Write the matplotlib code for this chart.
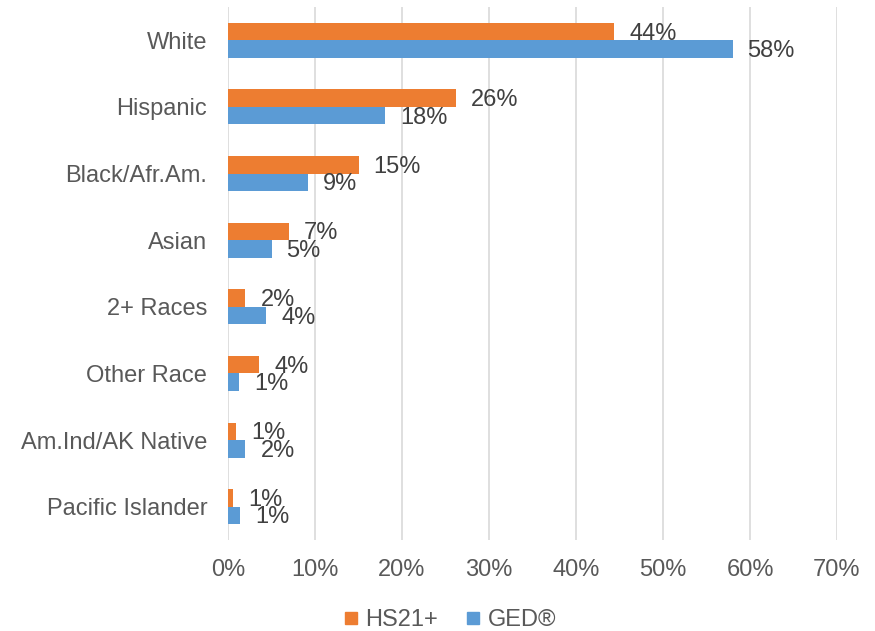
import matplotlib
matplotlib.use("Agg")
import matplotlib.pyplot as plt
import numpy as np
from matplotlib.lines import Line2D

plt.rcParams["font.family"] = ["Liberation Sans", "DejaVu Sans"]

categories = ["White", "Hispanic", "Black/Afr.Am.", "Asian", "2+ Races",
              "Other Race", "Am.Ind/AK Native", "Pacific Islander"]
hs21 = [44.4, 26.2, 15.0, 7.0, 2.0, 3.6, 0.9, 0.6]
ged = [58.0, 18.1, 9.2, 5.0, 4.4, 1.3, 2.0, 1.4]
xticks = [0, 10, 20, 30, 40, 50, 60, 70]

orange = "#ED7D31"
blue = "#5B9BD5"
label_color = "#595959"
value_color = "#404040"
fs = 17

fig = plt.figure(figsize=(8.75, 6.31), dpi=100)
ax = fig.add_axes([228 / 875, 1 - 540 / 631, 609 / 875, 533 / 631])

pos = np.arange(len(categories))
h = 0.262
b1 = ax.barh(pos - h / 2, hs21, height=h, color=orange, zorder=3)
b2 = ax.barh(pos + h / 2, ged, height=h, color=blue, zorder=3)

for bars, vals in ((b1, hs21), (b2, ged)):
    for bar, v in zip(bars, vals):
        ax.annotate(f"{v:.0f}%", (v, bar.get_y() + bar.get_height() / 2),
                    xytext=(15, -2), textcoords="offset pixels",
                    ha="left", va="center", fontsize=fs, color=value_color,
                    zorder=4)

ax.set_xlim(0, 70)
ax.set_ylim(len(categories) - 0.5, -0.5)
ax.set_xticks(xticks)
ax.set_xticklabels([f"{t}%" for t in xticks])
ax.set_yticks(pos)
ax.set_yticklabels(categories)
ax.tick_params(axis="both", length=0, labelsize=fs, labelcolor=label_color)
ax.tick_params(axis="x", pad=14)
ax.tick_params(axis="y", pad=15)
ax.grid(axis="x", color="#D9D9D9", linewidth=1.2, zorder=0)
for s in ax.spines.values():
    s.set_visible(False)

handles = [Line2D([], [], marker="s", linestyle="none", markersize=9,
                  color=orange),
           Line2D([], [], marker="s", linestyle="none", markersize=9,
                  color=blue)]
fig.legend(handles, ["HS21+", "GED®"], loc="center",
           bbox_to_anchor=(450 / 875, 1 - 620 / 631), ncol=2, frameon=False,
           fontsize=fs, labelcolor=label_color, handlelength=0.6,
           handletextpad=0.3, columnspacing=1.2)

fig.savefig("out.png", dpi=100)
